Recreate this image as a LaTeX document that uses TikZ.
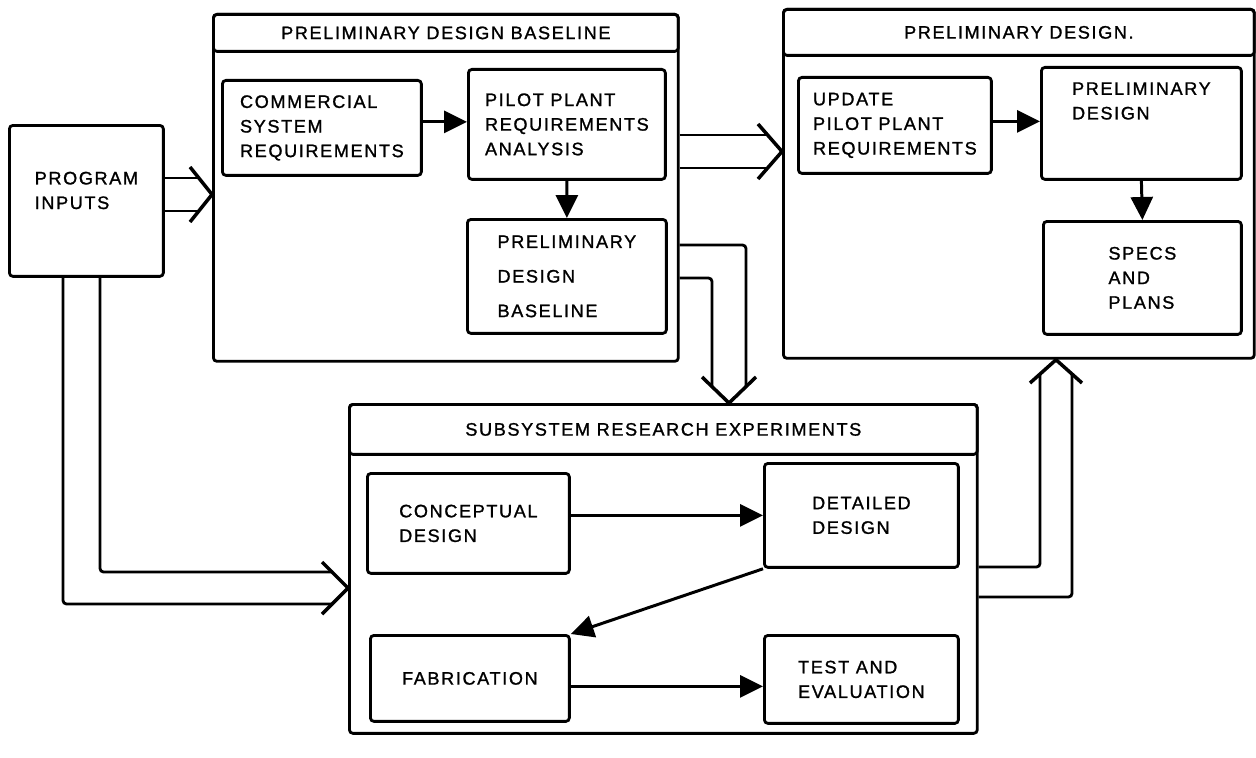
\documentclass[tikz,border=0pt]{standalone}
\usepackage{fontspec}
\newfontfamily\lblfont[LetterSpace=9, FakeBold=1.2]{Liberation Sans}
\newcommand\boxfont{\lblfont\fontsize{10.3}{14}\selectfont}
\usetikzlibrary{arrows.meta}
\tikzset{
  frame/.style={draw, line width=1.6pt, rounded corners=2pt, anchor=north west, inner sep=0pt},
  ttl/.style={frame, font=\boxfont},
  blk/.style={frame, align=left, font=\boxfont},
  arr/.style={line width=1.7pt, -{Triangle[length=0.46cm, width=0.44cm]}},
  dbl/.style={line width=1.6pt, rounded corners=2pt},
  chev/.style={line width=2pt, line join=miter}
}
\begin{document}
\begin{tikzpicture}[x=0.02cm, y=-0.02cm]
  \useasboundingbox (0,0) rectangle (1256,757);
  % outer frames with title bars
  \node[frame, minimum width=9.3cm, minimum height=6.94cm] (pdb) at (212,13) {};
  \node[ttl, minimum width=9.3cm, minimum height=0.74cm] (pdbtitle) at (pdb.north west) {PRELIMINARY DESIGN BASELINE};
  \node[frame, minimum width=9.42cm, minimum height=6.98cm] (pd) at (782,8) {};
  \node[ttl, minimum width=9.42cm, minimum height=0.92cm] (pdtitle) at (pd.north west) {PRELIMINARY DESIGN.};
  \node[frame, minimum width=12.56cm, minimum height=6.58cm] (sre) at (348,403) {};
  \node[ttl, minimum width=12.56cm, minimum height=1.0cm] (sretitle) at (sre.north west) {SUBSYSTEM RESEARCH EXPERIMENTS};
  % blocks
  \node[blk, minimum width=3.08cm, minimum height=3.02cm, text depth=0.42cm] (prog) at (8,124) {PROGRAM\\INPUTS};
  \node[blk, minimum width=3.98cm, minimum height=1.9cm] (comm) at (221,79) {COMMERCIAL\\SYSTEM\\REQUIREMENTS};
  \node[blk, minimum width=3.94cm, minimum height=2.2cm] (pilot) at (467,68) {PILOT PLANT\\REQUIREMENTS\\ANALYSIS};
  \node[blk, minimum width=3.98cm, minimum height=2.28cm] (base) at (466,218) {PRELIMINARY\\[0.2cm]DESIGN\\[0.2cm]BASELINE};
  \node[blk, minimum width=3.86cm, minimum height=1.92cm] (update) at (797,76) {UPDATE\\PILOT PLANT\\REQUIREMENTS};
  \node[blk, minimum width=4.0cm, minimum height=2.24cm, text depth=0.9cm] (pdes) at (1040,66) {PRELIMINARY\\DESIGN};
  \node[blk, minimum width=3.96cm, minimum height=2.26cm] (specs) at (1042,220) {SPECS\\AND\\PLANS};
  \node[blk, minimum width=4.04cm, minimum height=2.0cm] (concept) at (366,472) {CONCEPTUAL\\DESIGN};
  \node[blk, minimum width=3.88cm, minimum height=2.08cm] (detail) at (763,462) {DETAILED\\DESIGN};
  \node[blk, minimum width=3.98cm, minimum height=1.72cm] (fab) at (369,634) {FABRICATION};
  \node[blk, minimum width=3.88cm, minimum height=1.76cm] (test) at (763,634) {TEST AND\\EVALUATION};
  % single arrows
  \draw[arr] ([yshift=0.12cm]comm.east) -- ([yshift=0.12cm]pilot.west |- comm.east);
  \draw[arr] (pilot.south) -- (base.north);
  \draw[arr] ([yshift=0.08cm]update.east) -- ([yshift=0.08cm]pdes.west |- update.east);
  \draw[arr] (pdes.south) -- (specs.north);
  \draw[arr] ([yshift=0.16cm]concept.east) -- ([yshift=0.16cm]detail.west |- concept.east);
  \draw[arr] (detail.south west) -- (fab.north east);
  \draw[arr] ([yshift=-0.16cm]fab.east) -- ([yshift=-0.16cm]test.west |- fab.east);
  % double arrows
  \draw[dbl] (prog.east |- 0,178) -- (199,178) (prog.east |- 0,211) -- (199,211);
  \draw[chev] (190,167) -- (pdb.west |- 0,194.5) -- (190,222);
  \draw[dbl] (pdb.east |- 0,135) -- (768,135) (pdb.east |- 0,168) -- (768,168);
  \draw[chev] (758,124) -- (pd.west |- 0,151.5) -- (758,179);
  \draw[dbl] (pdb.east |- 0,245) -| (746,387) (pdb.east |- 0,278) -| (712,387);
  \draw[chev] (702,377) -- (sre.north -| 729,0) -- (756,377);
  \draw[dbl] (sre.east |- 0,567) -| (1040,373) (sre.east |- 0,597) -| (1072,373);
  \draw[chev] (1030,383) -- (pd.south -| 1056,0) -- (1082,383);
  \draw[dbl] (prog.south -| 63,0) |- (333,604) (prog.south -| 100,0) |- (333,572);
  \draw[chev] (322,562) -- (sre.west |- 0,588) -- (322,614);
\end{tikzpicture}
\end{document}
